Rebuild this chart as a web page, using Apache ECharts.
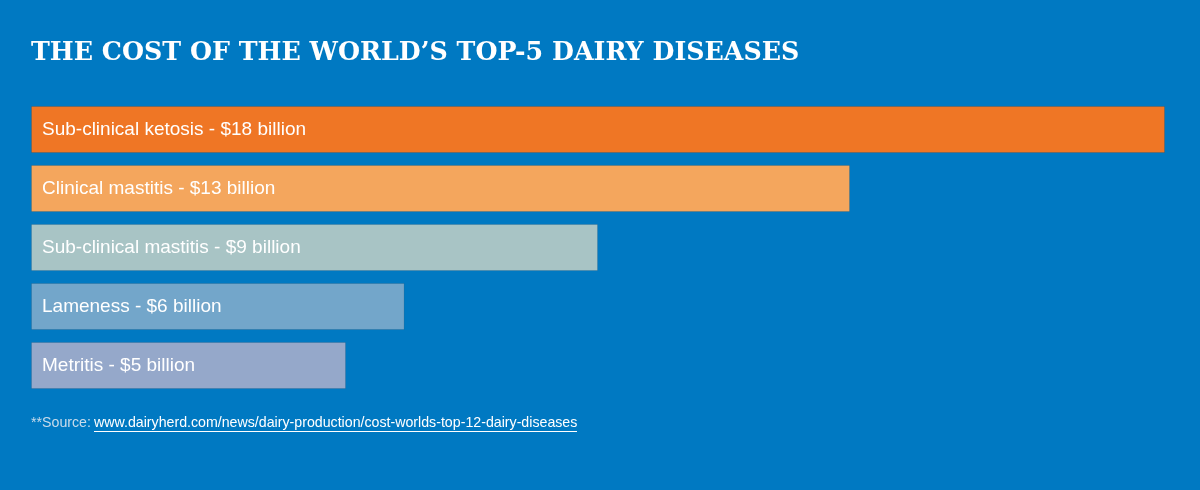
<!DOCTYPE html>
<html><head><meta charset="utf-8">
<script src="https://cdn.jsdelivr.net/npm/echarts@6/dist/echarts.min.js"></script>
<style>html,body{margin:0;padding:0;background:#0079C2;}#c{width:1200px;height:490px;}</style>
</head><body><div id="c"></div>
<script>
const categories = ['Sub-clinical ketosis', 'Clinical mastitis', 'Sub-clinical mastitis', 'Lameness', 'Metritis'];
const values = [18, 13, 9, 5.93, 5];
const valueLabels = ['$18 billion', '$13 billion', '$9 billion', '$6 billion', '$5 billion'];
const colors = ['#EF7625', '#F4A65D', '#A8C4C5', '#73A6CA', '#95A8CA'];
const titleText = "THE COST OF THE WORLD\u2019S TOP-5 DAIRY DISEASES";
const sourceLabel = '**Source:';
const sourceLink = 'www.dairyherd.com/news/dairy-production/cost-worlds-top-12-dairy-diseases';

const chart = echarts.init(document.getElementById('c'));
chart.setOption({
  backgroundColor: '#0079C2',
  animation: false,
  title: {
    text: titleText, left: 26, top: 36,
    textStyle: { color: '#fff', fontFamily: 'DejaVu Serif', fontWeight: 'bold', fontSize: 25.3 }
  },
  grid: { left: 31, right: 35, top: 100, bottom: 95 },
  xAxis: { type: 'value', min: 0, max: 18, show: false },
  yAxis: { type: 'category', data: categories, inverse: true, show: false },
  series: [{
    type: 'bar', barWidth: 47,
    data: values.map((v, i) => ({ value: v, itemStyle: { color: colors[i], borderColor: 'rgba(0,0,0,0.1)', borderWidth: 1 } })),
    label: {
      show: true, position: 'insideLeft', distance: 11, color: '#fff',
      fontFamily: 'Liberation Sans', fontSize: 19,
      formatter: p => categories[p.dataIndex] + ' - ' + valueLabels[p.dataIndex]
    }
  }],
  graphic: [
    { type: 'text', left: 31, top: 416, style: { text: sourceLabel, fill: '#C9DCEB', font: '14.2px "Liberation Sans"' } },
    { type: 'text', left: 94, top: 416, style: { text: sourceLink, fill: '#fff', font: '14.2px "Liberation Sans"' } },
    { type: 'rect', left: 94, top: 431, shape: { width: 483, height: 1 }, style: { fill: '#fff' } }
  ]
});
</script></body></html>
